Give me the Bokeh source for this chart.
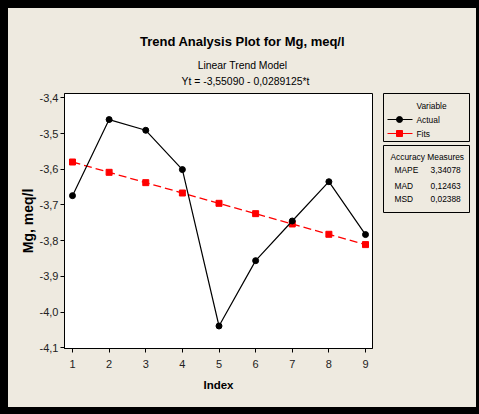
from bokeh.plotting import figure
from bokeh.models import (FixedTicker, CustomJSTickFormatter, Range1d,
                          GlobalInlineStyleSheet)
from bokeh.layouts import row, column
from bokeh.core.properties import value
from bokeh.embed import file_html
from bokeh.resources import INLINE

# ---------------- data ----------------
index = [1, 2, 3, 4, 5, 6, 7, 8, 9]
actual = [-3.674, -3.461, -3.491, -3.601, -4.039, -3.856, -3.745, -3.635, -3.783]
fits = [-3.5798, -3.6087, -3.6376, -3.6666, -3.6955, -3.7244, -3.7533, -3.7822, -3.8111]
y_ticks = [-4.1, -4.0, -3.9, -3.8, -3.7, -3.6, -3.5, -3.4]
x_ticks = [1, 2, 3, 4, 5, 6, 7, 8, 9]
series_names = ["Actual", "Fits"]
measure_names = ["MAPE", "MAD", "MSD"]
measure_values = ["3,34078", "0,12463", "0,02388"]
title_text = "Trend Analysis Plot for Mg, meq/l"
subtitle_text = "Linear Trend Model"
equation_text = "Yt = -3,55090 - 0,0289125*t"

BG = "#EEEAE0"
FONT = "'Liberation Sans Narrow', 'Liberation Sans', sans-serif"

# ---------------- title strip ----------------
tf = figure(width=468, height=80, x_range=Range1d(0, 468), y_range=Range1d(80, 0),
            output_backend="svg", toolbar_location=None,
            x_axis_type=None, y_axis_type=None, min_border=0,
            background_fill_color=BG, border_fill_color=BG, outline_line_color=None)
tf.grid.visible = False
tf.frame_align = False
tf.text(x=[234], y=[33], text=[title_text], text_align="center", text_baseline="middle",
        text_font=value(FONT), text_font_size="13px", text_font_style="bold", text_color="black")
tf.text(x=[234, 237], y=[57, 73], text=[subtitle_text, equation_text], text_align="center",
        text_baseline="middle", text_font=value(FONT), text_font_size="10.4px", text_color="black")

# ---------------- main plot ----------------
p = figure(width=370, height=319,
           x_range=Range1d(0.7816, 9.191), y_range=Range1d(-4.102, -3.388),
           output_backend="svg", toolbar_location=None,
           min_border_left=56, min_border_right=6, min_border_top=5, min_border_bottom=59,
           background_fill_color="white", border_fill_color=BG,
           outline_line_color="black", outline_line_width=1)
p.grid.visible = False
p.frame_align = False

for ax in (p.xaxis[0], p.yaxis[0]):
    ax.axis_line_color = "black"
    ax.major_tick_line_color = "black"
    ax.major_tick_in = 0
    ax.major_tick_out = 4
    ax.minor_tick_line_color = None
    ax.major_label_text_font = FONT
    ax.major_label_text_font_size = "11px"
    ax.major_label_text_color = "#222222"
    ax.axis_label_text_font = FONT
    ax.axis_label_text_font_style = "bold"
    ax.axis_label_text_color = "black"

p.xaxis.ticker = FixedTicker(ticks=x_ticks)
p.yaxis.ticker = FixedTicker(ticks=y_ticks)
p.yaxis.formatter = CustomJSTickFormatter(code="return tick.toFixed(1).replace('.', ',');")
p.xaxis.axis_label = "Index"
p.yaxis.axis_label = "Mg, meq/l"
p.xaxis.axis_label_text_font_size = "11.5px"
p.yaxis.axis_label_text_font_size = "14px"
p.xaxis.major_label_standoff = 7
p.yaxis.major_label_standoff = 2
p.xaxis.axis_label_standoff = 8
p.yaxis.axis_label_standoff = 1

p.line(index, fits, color="red", line_width=1.3, line_dash="8 4")
p.scatter(index, fits, marker="square", size=6, color="red")
p.line(index, actual, color="black", line_width=1.2)
p.scatter(index, actual, marker="circle", size=6, color="black")

# ---------------- legend / accuracy panel ----------------
lg = figure(width=98, height=319, x_range=Range1d(0, 98), y_range=Range1d(319, 0),
            output_backend="svg", toolbar_location=None,
            x_axis_type=None, y_axis_type=None, min_border=0,
            background_fill_color=BG, border_fill_color=BG, outline_line_color=None)
lg.grid.visible = False
lg.frame_align = False

lg.quad(left=[5, 5], right=[91, 91], top=[5, 57], bottom=[53, 124],
        fill_color=None, line_color="black", line_width=1)

LFS = "8.4px"
lg.text(x=[38], y=[17], text=["Variable"], text_align="left", text_baseline="middle",
        text_font=value(FONT), text_font_size=LFS, text_color="black")
lg.line([9, 34], [31, 31], color="black", line_width=1.2)
lg.scatter([21], [31], marker="circle", size=6, color="black")
lg.line([9, 34], [45, 45], color="red", line_width=1.2)
lg.scatter([21], [45], marker="square", size=6, color="red")
lg.text(x=[38, 38], y=[31, 45], text=series_names, text_align="left", text_baseline="middle",
        text_font=value(FONT), text_font_size=LFS, text_color="black")

lg.text(x=[12], y=[68], text=["Accuracy Measures"], text_align="left", text_baseline="middle",
        text_font=value(FONT), text_font_size=LFS, text_color="black")
lg.text(x=[16, 16, 16], y=[81, 97, 110], text=measure_names, text_align="left",
        text_baseline="middle", text_font=value(FONT), text_font_size=LFS, text_color="black")
lg.text(x=[52, 52, 52], y=[81, 97, 110], text=measure_values, text_align="left",
        text_baseline="middle", text_font=value(FONT), text_font_size=LFS, text_color="black")

body = row(p, lg, spacing=0)
body.styles = {"background-color": BG}
layout = column(tf, body, spacing=0)
layout.styles = {"background-color": BG}
layout.stylesheets = [GlobalInlineStyleSheet(
    css="body { background: #000000; padding: 8px 3px 7px 8px; }")]

open("out.html", "w").write(file_html(layout, INLINE))
